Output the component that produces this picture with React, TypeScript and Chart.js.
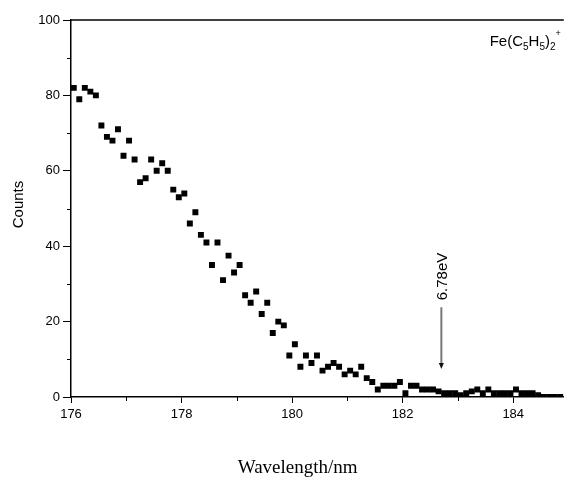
import { useEffect, useRef } from 'react';
import { Chart, registerables } from 'chart.js';

Chart.register(...registerables);

// ---- data ----
const wavelengths = [
  176.05, 176.15, 176.25, 176.35, 176.45, 176.55, 176.65, 176.75, 176.85, 176.95,
  177.05, 177.15, 177.25, 177.35, 177.45, 177.55, 177.65, 177.75, 177.85, 177.95,
  178.05, 178.15, 178.25, 178.35, 178.45, 178.55, 178.65, 178.75, 178.85, 178.95,
  179.05, 179.15, 179.25, 179.35, 179.45, 179.55, 179.65, 179.75, 179.85, 179.95,
  180.05, 180.15, 180.25, 180.35, 180.45, 180.55, 180.65, 180.75, 180.85, 180.95,
  181.05, 181.15, 181.25, 181.35, 181.45, 181.55, 181.65, 181.75, 181.85, 181.95,
  182.05, 182.15, 182.25, 182.35, 182.45, 182.55, 182.65, 182.75, 182.85, 182.95,
  183.05, 183.15, 183.25, 183.35, 183.45, 183.55, 183.65, 183.75, 183.85, 183.95,
  184.05, 184.15, 184.25, 184.35, 184.45, 184.55, 184.65, 184.75, 184.85,
];
const counts = [
  82, 79, 82, 81, 80, 72, 69, 68, 71, 64,
  68, 63, 57, 58, 63, 60, 62, 60, 55, 53,
  54, 46, 49, 43, 41, 35, 41, 31, 37.5, 33,
  35, 27, 25, 28, 22, 25, 17, 20, 19, 11,
  14, 8, 11, 9, 11, 7, 8, 9, 8, 6,
  7, 6, 8, 5, 4, 2, 3, 3, 3, 4,
  1, 3, 3, 2, 2, 2, 1.5, 1, 1, 1,
  0.5, 1, 1.5, 2, 1, 2, 1, 1, 1, 1,
  2, 1, 1, 1, 0.5, 0, 0, 0, 0,
];
const xMajorTicks = [176, 178, 180, 182, 184];
const xMinorTicks = [177, 179, 181, 183];
const yMajorTicks = [0, 20, 40, 60, 80, 100];
const yMinorTicks = [10, 30, 50, 70, 90];
const xRange = [176, 184.915];
const yRange = [0, 100];
const arrowWavelength = 182.7;
const arrowFromCount = 23.8;
const arrowToCount = 7.4;
const arrowLabel = '6.78eV';
const xTitle = 'Wavelength/nm';
const yTitle = 'Counts';

const SANS = "'Liberation Sans', Arial, sans-serif";
const SERIF = "'Liberation Serif', 'Times New Roman', serif";

const overlayPlugin = {
  id: 'overlay',
  afterDraw(chart: any) {
    const { ctx, chartArea, scales } = chart;
    const xs = scales.x;
    const ys = scales.y;
    ctx.save();
    // top frame line
    ctx.strokeStyle = '#000';
    ctx.lineWidth = 1.5;
    ctx.beginPath();
    ctx.moveTo(chartArea.left, chartArea.top);
    ctx.lineTo(chartArea.right, chartArea.top);
    ctx.stroke();
    // minor ticks
    ctx.lineWidth = 1;
    ctx.beginPath();
    for (const v of yMinorTicks) {
      const py = Math.round(ys.getPixelForValue(v)) + 0.5;
      ctx.moveTo(chartArea.left - 4, py);
      ctx.lineTo(chartArea.left, py);
    }
    for (const v of xMinorTicks) {
      const px = Math.round(xs.getPixelForValue(v)) + 0.5;
      ctx.moveTo(px, chartArea.bottom);
      ctx.lineTo(px, chartArea.bottom + 4);
    }
    ctx.stroke();

    // arrow
    const ax = xs.getPixelForValue(arrowWavelength);
    const ay0 = ys.getPixelForValue(arrowFromCount);
    const ay1 = ys.getPixelForValue(arrowToCount);
    ctx.strokeStyle = '#777';
    ctx.lineWidth = 2;
    ctx.beginPath();
    ctx.moveTo(ax, ay0);
    ctx.lineTo(ax, ay1 - 5);
    ctx.stroke();
    ctx.fillStyle = '#111';
    ctx.beginPath();
    ctx.moveTo(ax - 2.5, ay1 - 6);
    ctx.lineTo(ax + 2.5, ay1 - 6);
    ctx.lineTo(ax, ay1);
    ctx.closePath();
    ctx.fill();

    // arrow label (rotated)
    ctx.save();
    ctx.translate(ax + 1, ay0 - 7);
    ctx.rotate(-Math.PI / 2);
    ctx.fillStyle = '#000';
    ctx.font = `15px ${SANS}`;
    ctx.textAlign = 'left';
    ctx.textBaseline = 'middle';
    ctx.fillText(arrowLabel, 0, 0);
    ctx.restore();

    // species label Fe(C5H5)2+
    const parts: [string, number, number][] = [
      ['Fe(C', 15, 0],
      ['5', 10, 4],
      ['H', 15, 0],
      ['5', 10, 4],
      [')', 15, 0],
      ['2', 10, 4],
      ['+', 9, -10],
    ];
    ctx.fillStyle = '#000';
    ctx.textBaseline = 'alphabetic';
    ctx.textAlign = 'left';
    let total = 0;
    for (const [t, s] of parts) {
      ctx.font = `${s}px ${SANS}`;
      total += ctx.measureText(t).width;
    }
    let tx = chartArea.right - 3 - total;
    const baseY = chartArea.top + 26;
    for (const [t, s, dy] of parts) {
      ctx.font = `${s}px ${SANS}`;
      ctx.fillText(t, tx, baseY + dy);
      tx += ctx.measureText(t).width;
    }

    // axis titles
    ctx.font = `19px ${SERIF}`;
    ctx.textAlign = 'center';
    ctx.textBaseline = 'middle';
    ctx.fillText(xTitle, chartArea.left + 0.46 * (chartArea.right - chartArea.left), chartArea.bottom + 71);

    ctx.save();
    ctx.translate(19, (chartArea.top + chartArea.bottom) / 2 - 4);
    ctx.rotate(-Math.PI / 2);
    ctx.font = `15px ${SANS}`;
    ctx.textAlign = 'center';
    ctx.textBaseline = 'middle';
    ctx.fillText(yTitle, 0, 0);
    ctx.restore();

    ctx.restore();
  },
};

export default function App() {
  const ref = useRef<HTMLCanvasElement | null>(null);
  useEffect(() => {
    if (!ref.current) return;
    const chart = new Chart(ref.current, {
      type: 'scatter',
      data: {
        datasets: [
          {
            data: wavelengths.map((w, i) => ({ x: w, y: counts[i] })),
            pointStyle: 'rect',
            pointRadius: 4.2,
            pointBorderWidth: 0,
            backgroundColor: '#000',
            borderColor: '#000',
          },
        ],
      },
      options: {
        animation: false,
        responsive: false,
        devicePixelRatio: 1,
        layout: { padding: { top: 20, right: 0, left: 0, bottom: 0 } },
        plugins: { legend: { display: false }, tooltip: { enabled: false } },
        scales: {
          x: {
            type: 'linear',
            min: xRange[0],
            max: xRange[1],
            afterFit: (s: any) => { s.height = 88; },
            afterBuildTicks: (s: any) => { s.ticks = xMajorTicks.map((v) => ({ value: v })); },
            grid: { drawOnChartArea: false, tickLength: 6, tickColor: '#000', tickWidth: 1 },
            border: { color: '#000', width: 1.5 },
            ticks: { color: '#000', padding: 4, font: { family: SANS, size: 13 }, maxRotation: 0 },
          },
          y: {
            type: 'linear',
            min: yRange[0],
            max: yRange[1],
            afterFit: (s: any) => { s.width = 71; },
            afterBuildTicks: (s: any) => { s.ticks = yMajorTicks.map((v) => ({ value: v })); },
            grid: { drawOnChartArea: false, tickLength: 8, tickColor: '#000', tickWidth: 1 },
            border: { color: '#000', width: 1.5 },
            ticks: { color: '#000', padding: 3, font: { family: SANS, size: 13 } },
          },
        },
      },
      plugins: [overlayPlugin],
    });
    return () => chart.destroy();
  }, []);
  return (
    <div style={{ position: 'fixed', left: 0, top: 0, width: 568, height: 485, background: '#fff' }}>
      <canvas ref={ref} width={568} height={485} />
    </div>
  );
}
